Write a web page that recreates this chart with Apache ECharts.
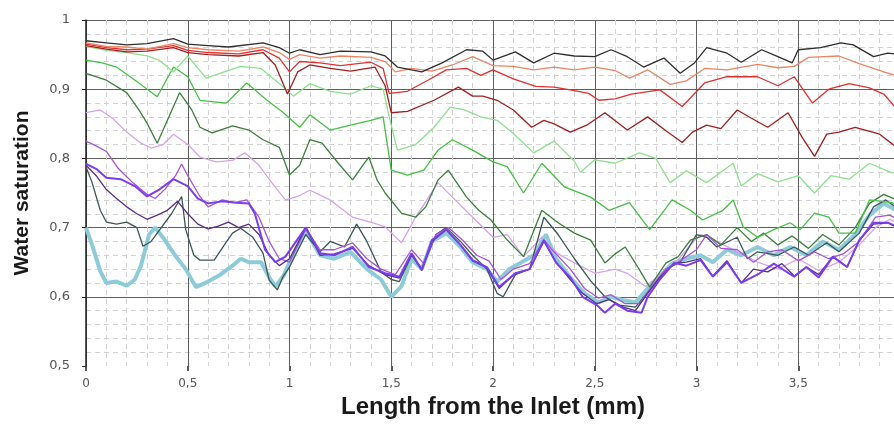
<!DOCTYPE html>
<html>
<head>
<meta charset="utf-8">
<script src="https://cdn.jsdelivr.net/npm/echarts@6/dist/echarts.min.js"></script>
<style>
  html, body { margin: 0; padding: 0; background: #fff; }
</style>
</head>
<body>
<div id="main" style="width:894px;height:424px"></div>
<script>
// water saturation profiles, [length (mm), saturation]
const satBlack = [[0,0.970],[0.1,0.967],[0.2,0.964],[0.3,0.966],[0.43,0.973],[0.5,0.965],[0.6,0.963],[0.7,0.961],[0.87,0.967],[0.95,0.960],[1.0,0.952],[1.05,0.957],[1.15,0.950],[1.25,0.955],[1.4,0.954],[1.47,0.948],[1.53,0.932],[1.65,0.925],[1.75,0.938],[1.87,0.957],[1.95,0.955],[2.0,0.942],[2.11,0.954],[2.2,0.938],[2.3,0.952],[2.4,0.948],[2.5,0.947],[2.58,0.957],[2.66,0.947],[2.74,0.932],[2.84,0.945],[2.92,0.923],[2.99,0.938],[3.05,0.960],[3.15,0.952],[3.22,0.939],[3.32,0.957],[3.4,0.947],[3.47,0.938],[3.5,0.957],[3.61,0.960],[3.71,0.967],[3.77,0.964],[3.87,0.947],[3.94,0.952],[4.0,0.950]];
const satOrange = [[0,0.967],[0.1,0.962],[0.2,0.961],[0.3,0.958],[0.43,0.966],[0.5,0.960],[0.6,0.957],[0.75,0.955],[0.87,0.961],[0.95,0.953],[1.0,0.943],[1.05,0.950],[1.15,0.945],[1.25,0.948],[1.4,0.946],[1.47,0.940],[1.52,0.925],[1.6,0.930],[1.7,0.926],[1.8,0.935],[1.9,0.947],[2.0,0.934],[2.1,0.933],[2.2,0.928],[2.3,0.932],[2.4,0.928],[2.5,0.932],[2.6,0.927],[2.67,0.916],[2.76,0.928],[2.87,0.907],[2.95,0.912],[3.04,0.930],[3.15,0.928],[3.3,0.936],[3.4,0.931],[3.48,0.933],[3.55,0.946],[3.7,0.948],[3.8,0.937],[3.92,0.925],[4.0,0.918]];
const satRed = [[0,0.965],[0.1,0.960],[0.2,0.957],[0.3,0.958],[0.43,0.963],[0.5,0.956],[0.6,0.953],[0.75,0.951],[0.87,0.957],[0.95,0.945],[1.0,0.925],[1.05,0.940],[1.15,0.938],[1.25,0.934],[1.4,0.939],[1.46,0.930],[1.49,0.894],[1.58,0.897],[1.68,0.913],[1.77,0.928],[1.87,0.930],[1.94,0.920],[2.0,0.928],[2.1,0.915],[2.21,0.904],[2.3,0.903],[2.38,0.899],[2.47,0.894],[2.52,0.884],[2.6,0.886],[2.68,0.893],[2.82,0.899],[2.93,0.875],[3.04,0.909],[3.15,0.918],[3.3,0.918],[3.4,0.905],[3.48,0.918],[3.57,0.880],[3.65,0.900],[3.75,0.908],[3.85,0.902],[3.92,0.893],[4.0,0.866]];
const satDarkRed = [[0,0.963],[0.1,0.958],[0.2,0.954],[0.3,0.955],[0.43,0.960],[0.5,0.953],[0.6,0.950],[0.75,0.948],[0.87,0.953],[0.93,0.935],[0.99,0.893],[1.04,0.925],[1.1,0.935],[1.2,0.930],[1.3,0.926],[1.42,0.932],[1.47,0.905],[1.5,0.866],[1.58,0.868],[1.71,0.884],[1.83,0.903],[1.9,0.890],[1.95,0.890],[2.02,0.884],[2.1,0.870],[2.19,0.845],[2.25,0.855],[2.3,0.850],[2.38,0.838],[2.46,0.848],[2.55,0.866],[2.62,0.850],[2.66,0.841],[2.76,0.860],[2.85,0.840],[2.93,0.823],[2.98,0.838],[3.05,0.848],[3.12,0.843],[3.2,0.870],[3.27,0.858],[3.35,0.845],[3.45,0.866],[3.52,0.830],[3.58,0.803],[3.64,0.835],[3.7,0.838],[3.78,0.845],[3.9,0.835],[4.0,0.812]];
const satLightGreen = [[0,0.962],[0.1,0.956],[0.2,0.953],[0.3,0.948],[0.36,0.942],[0.43,0.925],[0.5,0.948],[0.59,0.916],[0.68,0.925],[0.76,0.933],[0.86,0.930],[0.97,0.903],[1.02,0.890],[1.1,0.908],[1.2,0.897],[1.3,0.893],[1.4,0.905],[1.46,0.900],[1.49,0.860],[1.53,0.812],[1.62,0.820],[1.71,0.845],[1.79,0.874],[1.86,0.870],[1.94,0.860],[2.02,0.855],[2.1,0.836],[2.2,0.808],[2.3,0.825],[2.4,0.796],[2.43,0.780],[2.5,0.798],[2.6,0.793],[2.72,0.808],[2.8,0.800],[2.87,0.765],[2.95,0.782],[3.05,0.765],[3.18,0.793],[3.22,0.760],[3.3,0.778],[3.4,0.766],[3.5,0.775],[3.58,0.750],[3.66,0.775],[3.75,0.770],[3.85,0.793],[3.96,0.779],[4.0,0.781]];
const satGreen = [[0,0.942],[0.08,0.938],[0.15,0.932],[0.26,0.909],[0.35,0.889],[0.43,0.932],[0.5,0.918],[0.56,0.884],[0.69,0.880],[0.79,0.909],[0.89,0.884],[0.97,0.866],[1.05,0.845],[1.1,0.863],[1.2,0.841],[1.3,0.848],[1.4,0.855],[1.46,0.860],[1.5,0.783],[1.58,0.776],[1.66,0.783],[1.73,0.812],[1.8,0.827],[1.9,0.812],[2.0,0.795],[2.07,0.788],[2.15,0.750],[2.24,0.793],[2.35,0.759],[2.48,0.744],[2.57,0.725],[2.67,0.736],[2.77,0.697],[2.88,0.740],[2.97,0.725],[3.03,0.711],[3.13,0.725],[3.18,0.740],[3.23,0.701],[3.3,0.686],[3.38,0.697],[3.46,0.707],[3.51,0.697],[3.58,0.721],[3.65,0.715],[3.7,0.692],[3.78,0.692],[3.85,0.740],[3.96,0.736],[4.0,0.730]];
const satDarkGreen = [[0,0.923],[0.1,0.913],[0.2,0.895],[0.26,0.870],[0.3,0.851],[0.35,0.822],[0.4,0.855],[0.46,0.895],[0.52,0.870],[0.56,0.845],[0.62,0.837],[0.72,0.847],[0.8,0.841],[0.87,0.827],[0.95,0.816],[1.0,0.776],[1.05,0.790],[1.1,0.827],[1.16,0.822],[1.24,0.793],[1.31,0.769],[1.36,0.790],[1.39,0.802],[1.43,0.769],[1.47,0.750],[1.55,0.721],[1.62,0.715],[1.67,0.730],[1.73,0.769],[1.78,0.783],[1.87,0.744],[1.93,0.725],[1.99,0.711],[2.07,0.682],[2.15,0.658],[2.24,0.725],[2.32,0.707],[2.4,0.692],[2.48,0.682],[2.55,0.649],[2.6,0.662],[2.65,0.672],[2.72,0.639],[2.77,0.614],[2.85,0.649],[2.91,0.658],[2.97,0.682],[3.05,0.690],[3.12,0.675],[3.2,0.700],[3.27,0.680],[3.33,0.692],[3.4,0.675],[3.47,0.688],[3.55,0.670],[3.62,0.690],[3.7,0.675],[3.78,0.700],[3.85,0.735],[3.92,0.748],[4.0,0.738]];
const satLavender = [[0,0.866],[0.07,0.870],[0.13,0.858],[0.2,0.838],[0.27,0.822],[0.32,0.815],[0.38,0.820],[0.43,0.835],[0.5,0.820],[0.56,0.802],[0.64,0.795],[0.72,0.797],[0.78,0.808],[0.85,0.790],[0.92,0.762],[0.98,0.740],[1.04,0.745],[1.1,0.754],[1.2,0.740],[1.31,0.715],[1.41,0.707],[1.47,0.701],[1.55,0.678],[1.62,0.715],[1.73,0.765],[1.8,0.744],[1.9,0.715],[2.0,0.686],[2.07,0.690],[2.15,0.658],[2.24,0.686],[2.32,0.662],[2.4,0.649],[2.5,0.634],[2.6,0.640],[2.66,0.634],[2.75,0.615],[2.82,0.632],[2.9,0.650],[2.97,0.675],[3.02,0.690],[3.1,0.680],[3.2,0.665],[3.3,0.650],[3.4,0.640],[3.5,0.655],[3.6,0.638],[3.7,0.650],[3.8,0.675],[3.88,0.700],[3.95,0.712],[4.0,0.705]];
const satViolet = [[0,0.825],[0.05,0.818],[0.1,0.810],[0.16,0.785],[0.23,0.765],[0.3,0.748],[0.34,0.742],[0.39,0.756],[0.44,0.775],[0.47,0.792],[0.5,0.775],[0.56,0.745],[0.6,0.730],[0.67,0.740],[0.73,0.736],[0.79,0.740],[0.85,0.715],[0.9,0.680],[0.95,0.655],[1.0,0.650],[1.08,0.698],[1.15,0.668],[1.22,0.668],[1.31,0.678],[1.38,0.655],[1.45,0.640],[1.52,0.632],[1.6,0.668],[1.66,0.648],[1.72,0.690],[1.78,0.700],[1.85,0.682],[1.92,0.660],[1.98,0.652],[2.04,0.625],[2.1,0.640],[2.18,0.648],[2.25,0.682],[2.3,0.665],[2.38,0.640],[2.45,0.612],[2.52,0.598],[2.58,0.603],[2.65,0.590],[2.72,0.590],[2.78,0.615],[2.85,0.640],[2.92,0.652],[3.0,0.668],[3.05,0.690],[3.12,0.670],[3.2,0.668],[3.28,0.650],[3.35,0.665],[3.42,0.668],[3.5,0.652],[3.58,0.665],[3.65,0.655],[3.72,0.662],[3.8,0.680],[3.88,0.715],[3.95,0.718],[4.0,0.710]];
const satDarkPurple = [[0,0.790],[0.05,0.775],[0.1,0.755],[0.15,0.742],[0.2,0.730],[0.25,0.720],[0.3,0.712],[0.35,0.718],[0.4,0.725],[0.45,0.738],[0.5,0.720],[0.55,0.705],[0.6,0.698],[0.65,0.702],[0.7,0.708],[0.75,0.700],[0.8,0.705],[0.85,0.690],[0.9,0.660],[0.95,0.645],[1.0,0.655],[1.08,0.700],[1.15,0.660],[1.22,0.662],[1.31,0.670],[1.39,0.645],[1.47,0.632],[1.54,0.627],[1.6,0.662],[1.65,0.638],[1.7,0.680],[1.77,0.697],[1.84,0.675],[1.9,0.652],[1.97,0.642],[2.03,0.612],[2.11,0.634],[2.18,0.640],[2.25,0.680],[2.31,0.650],[2.38,0.625],[2.44,0.605],[2.51,0.590],[2.57,0.596],[2.64,0.585],[2.7,0.580],[2.76,0.605],[2.82,0.628],[2.89,0.648],[2.95,0.650],[3.02,0.655],[3.08,0.630],[3.15,0.652],[3.22,0.620],[3.28,0.640],[3.35,0.636],[3.42,0.648],[3.48,0.630],[3.54,0.643],[3.6,0.632],[3.67,0.658],[3.74,0.643],[3.8,0.682],[3.87,0.705],[3.94,0.707],[4.0,0.698]];
const satBrightViolet = [[0,0.792],[0.05,0.785],[0.1,0.772],[0.17,0.770],[0.24,0.760],[0.3,0.745],[0.36,0.755],[0.43,0.770],[0.5,0.760],[0.55,0.742],[0.6,0.735],[0.67,0.738],[0.74,0.736],[0.8,0.735],[0.83,0.720],[0.88,0.668],[0.93,0.650],[0.98,0.658],[1.08,0.700],[1.15,0.663],[1.22,0.660],[1.31,0.672],[1.39,0.643],[1.47,0.634],[1.54,0.629],[1.6,0.663],[1.65,0.639],[1.7,0.682],[1.77,0.697],[1.84,0.675],[1.9,0.653],[1.97,0.643],[2.03,0.614],[2.11,0.634],[2.18,0.640],[2.25,0.682],[2.31,0.649],[2.38,0.628],[2.44,0.600],[2.51,0.588],[2.55,0.577],[2.6,0.590],[2.66,0.580],[2.73,0.577],[2.76,0.600],[2.82,0.625],[2.89,0.649],[2.95,0.645],[3.02,0.653],[3.08,0.629],[3.15,0.650],[3.22,0.620],[3.31,0.634],[3.38,0.648],[3.48,0.629],[3.54,0.643],[3.6,0.628],[3.67,0.658],[3.74,0.643],[3.8,0.682],[3.87,0.707],[3.94,0.707],[4.0,0.700]];
const satSlate = [[0,0.788],[0.03,0.765],[0.07,0.725],[0.1,0.708],[0.15,0.705],[0.2,0.708],[0.25,0.700],[0.28,0.673],[0.32,0.680],[0.35,0.692],[0.42,0.720],[0.47,0.745],[0.49,0.697],[0.53,0.660],[0.56,0.653],[0.63,0.653],[0.68,0.675],[0.72,0.692],[0.76,0.699],[0.82,0.686],[0.87,0.663],[0.9,0.624],[0.94,0.610],[0.97,0.630],[1.0,0.643],[1.08,0.690],[1.15,0.665],[1.2,0.680],[1.27,0.672],[1.33,0.705],[1.38,0.680],[1.45,0.636],[1.5,0.625],[1.54,0.622],[1.6,0.660],[1.65,0.640],[1.72,0.690],[1.77,0.700],[1.84,0.680],[1.9,0.660],[1.97,0.640],[2.02,0.605],[2.05,0.600],[2.11,0.632],[2.18,0.640],[2.25,0.715],[2.32,0.690],[2.4,0.655],[2.48,0.623],[2.55,0.600],[2.62,0.588],[2.7,0.585],[2.77,0.610],[2.85,0.640],[2.92,0.650],[3.0,0.690],[3.05,0.686],[3.1,0.672],[3.2,0.686],[3.25,0.655],[3.3,0.665],[3.4,0.660],[3.48,0.672],[3.55,0.660],[3.64,0.678],[3.7,0.665],[3.8,0.692],[3.87,0.730],[3.93,0.740],[4.0,0.725]];
const satLightBlue = [[0,0.700],[0.03,0.675],[0.07,0.637],[0.1,0.620],[0.15,0.622],[0.2,0.616],[0.24,0.625],[0.27,0.645],[0.31,0.690],[0.34,0.700],[0.38,0.685],[0.43,0.663],[0.49,0.640],[0.54,0.614],[0.6,0.622],[0.66,0.632],[0.72,0.645],[0.76,0.655],[0.8,0.650],[0.86,0.650],[0.9,0.628],[0.93,0.615],[0.97,0.630],[1.0,0.650],[1.08,0.695],[1.15,0.660],[1.22,0.655],[1.3,0.665],[1.38,0.640],[1.45,0.625],[1.5,0.600],[1.55,0.615],[1.6,0.655],[1.65,0.640],[1.7,0.680],[1.77,0.692],[1.84,0.672],[1.9,0.650],[1.97,0.640],[2.02,0.622],[2.08,0.640],[2.13,0.648],[2.2,0.660],[2.26,0.690],[2.31,0.655],[2.38,0.628],[2.45,0.605],[2.52,0.592],[2.58,0.600],[2.64,0.595],[2.7,0.592],[2.76,0.612],[2.82,0.630],[2.88,0.648],[2.95,0.655],[3.02,0.660],[3.08,0.650],[3.15,0.668],[3.22,0.660],[3.3,0.672],[3.38,0.660],[3.46,0.672],[3.54,0.660],[3.62,0.680],[3.7,0.668],[3.78,0.690],[3.85,0.718],[3.92,0.735],[4.0,0.722]];

// drawing order: bottom first
const profiles = [
  { data: satLightBlue, color: '#8ecbd9', width: 4 },
  { data: satLavender, color: '#d6a2ee', width: 1.3 },
  { data: satSlate, color: '#3b5656', width: 1.3 },
  { data: satDarkGreen, color: '#3c7f3c', width: 1.3 },
  { data: satGreen, color: '#45c045', width: 1.3 },
  { data: satLightGreen, color: '#8fe08f', width: 1.3 },
  { data: satViolet, color: '#a653d6', width: 1.3 },
  { data: satDarkPurple, color: '#5a2c88', width: 1.3 },
  { data: satBrightViolet, color: '#7a3cf0', width: 2 },
  { data: satDarkRed, color: '#a21e1e', width: 1.3 },
  { data: satRed, color: '#e23030', width: 1.3 },
  { data: satOrange, color: '#ec8466', width: 1.3 },
  { data: satBlack, color: '#2e2e2e', width: 1.3 }
];

const fontFamily = "'Liberation Sans', Arial, sans-serif";
const tickFont = "'DejaVu Sans', sans-serif";
const comma = v => (v >= 3.99 && v <= 4.01) ? '' : String(Math.round(v * 10) / 10).replace('.', ',');

const myChart = echarts.init(document.getElementById('main'));
const option = {
  animation: false,
  backgroundColor: '#fff',
  grid: { left: 86, top: 20, right: -6, bottom: 58, outerBoundsMode: 'none' },
  xAxis: {
    type: 'value',
    min: 0,
    max: 4,
    interval: 0.5,
    name: 'Length from the Inlet (mm)',
    nameLocation: 'middle',
    nameGap: 17,
    nameTextStyle: { fontFamily, fontWeight: 'bold', fontSize: 24, color: '#1a1a1a' },
    axisLine: { show: false },
    axisTick: { show: true, length: 5, lineStyle: { color: '#222', width: 1.5 } },
    axisLabel: { formatter: comma, color: '#555', fontSize: 12, fontFamily: tickFont, margin: 12 },
    splitLine: { show: true, lineStyle: { color: '#5e5e5e', width: 1 } },
    minorTick: { show: false, splitNumber: 5 },
    minorSplitLine: { show: true, lineStyle: { color: '#d2d2d2', width: 1, type: [5, 4] } }
  },
  yAxis: {
    type: 'value',
    min: 0.5,
    max: 1,
    interval: 0.1,
    name: 'Water saturation',
    nameLocation: 'middle',
    nameGap: 53,
    nameRotate: 90,
    nameTextStyle: { fontFamily, fontWeight: 'bold', fontSize: 21, color: '#1a1a1a' },
    axisLine: { show: true, lineStyle: { color: '#222', width: 1.5 } },
    axisTick: { show: true, length: 4, lineStyle: { color: '#222' } },
    axisLabel: { formatter: comma, color: '#555', fontSize: 13, fontFamily: tickFont, margin: 16 },
    splitLine: { show: true, showMinLine: false, lineStyle: { color: '#5e5e5e', width: 1 } },
    minorTick: { show: false, splitNumber: 5 },
    minorSplitLine: { show: true, lineStyle: { color: '#d2d2d2', width: 1, type: [5, 4] } }
  },
  series: profiles.map(p => ({
    type: 'line',
    data: p.data,
    showSymbol: false,
    symbol: 'none',
    clip: true,
    lineStyle: { color: p.color, width: p.width },
    emphasis: { disabled: true }
  }))
};
myChart.setOption(option);
</script>
</body>
</html>
